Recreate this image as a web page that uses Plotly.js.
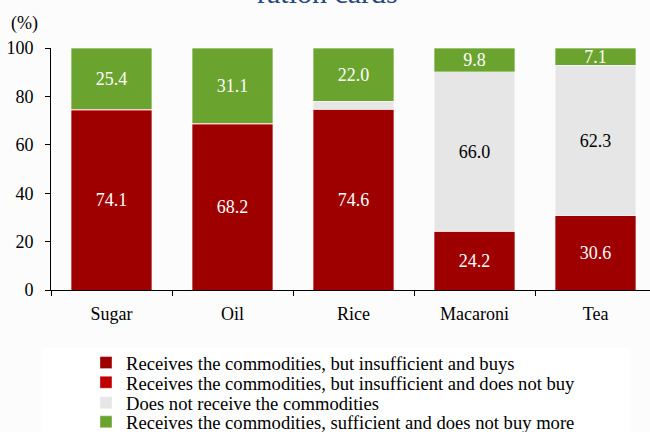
<!DOCTYPE html>
<html>
<head>
<meta charset="utf-8">
<script src="https://cdn.plot.ly/plotly-3.0.1.min.js"></script>
<style>html,body{margin:0;padding:0;background:#fcfcfc;}#chart{width:650px;height:432px;}</style>
</head>
<body>
<div id="chart"></div>
<script>
const categories = ['Sugar', 'Oil', 'Rice', 'Macaroni', 'Tea'];
const insufficientBuys = [74.1, 68.2, 74.6, 24.2, 30.6];
const insufficientNotBuy = [0.5, 0.7, 0, 0, 0];
const notReceive = [0, 0, 3.4, 66.0, 62.3];
const sufficient = [25.4, 31.1, 22.0, 9.8, 7.1];
const seriesNames = [
  'Receives the commodities, but insufficient and buys',
  'Receives the commodities, but insufficient and does not buy',
  'Does not receive the commodities',
  'Receives the commodities, sufficient and does not buy more'
];
const seriesColors = ['#9e0000', '#c00000', '#e6e6e6', '#6ba32f'];
const labelColors = ['#ffffff', '#ffffff', '#000000', '#ffffff'];
const yTicks = [0, 20, 40, 60, 80, 100];

const F = 'Liberation Serif';
const FS = 18;
const LFS = 18.6;
const legendIds = ['legend', 'legend2', 'legend3', 'legend4'];
const legendTops = [-0.223, -0.3044, -0.3892, -0.4679];
const allSeries = [insufficientBuys, insufficientNotBuy, notReceive, sufficient];
const traces = allSeries.map((vals, i) => ({
  type: 'bar',
  x: categories,
  y: vals,
  name: seriesNames[i],
  legend: legendIds[i],
  marker: {color: seriesColors[i], line: {color: 'rgba(255,255,255,0.7)', width: 0.5}},
  text: vals.map(v => v >= 5 ? v.toFixed(1) : ''),
  textposition: 'inside',
  insidetextanchor: 'middle',
  constraintext: 'none',
  textfont: {family: F, size: FS, color: labelColors[i]},
  hoverinfo: 'skip'
}));

const layout = {
  width: 650, height: 432,
  margin: {l: 51, r: 0, t: 48, b: 142, autoexpand: false},
  paper_bgcolor: '#fcfcfc',
  plot_bgcolor: '#fcfcfc',
  barmode: 'stack',
  bargap: 0.333,
  showlegend: true,
  font: {family: F, size: FS, color: '#000'},
  xaxis: {
    range: [-0.5, 4.45],
    showline: true, linecolor: '#000', linewidth: 1,
    ticks: 'outside', tickson: 'boundaries', ticklen: 5, tickcolor: '#000',
    ticklabelstandoff: 7,
    tickfont: {family: F, size: FS, color: '#000'},
    showgrid: false, zeroline: false, fixedrange: true, automargin: false
  },
  yaxis: {
    range: [0, 100],
    tickvals: yTicks,
    showline: true, linecolor: '#000', linewidth: 1,
    ticks: 'outside', ticklen: 5, tickcolor: '#000',
    ticklabelstandoff: 8,
    tickfont: {family: F, size: FS, color: '#000'},
    showgrid: false, zeroline: false, fixedrange: true, automargin: false
  },
  shapes: [{
    type: 'rect', xref: 'paper', yref: 'paper', layer: 'below',
    x0: -0.015, x1: 0.967, y0: -0.6, y1: -0.24,
    fillcolor: '#ffffff', line: {width: 0}
  }],
  annotations: [
    {text: '(%)', xref: 'paper', yref: 'paper', x: -0.07, y: 1.103,
     xanchor: 'left', yanchor: 'middle', showarrow: false,
     font: {family: F, size: FS, color: '#000'}},
    {text: 'ration cards', xref: 'paper', yref: 'paper', x: 0.462, y: 1.152,
     xanchor: 'center', yanchor: 'bottom', showarrow: false,
     font: {family: F, size: 30, color: '#1f497d'}}
  ]
};
legendIds.forEach((id, i) => {
  layout[id] = {
    orientation: 'v',
    x: 0.0584, xanchor: 'left',
    y: legendTops[i], yanchor: 'top',
    bgcolor: 'rgba(0,0,0,0)',
    font: {family: F, size: LFS, color: '#000'},
    tracegroupgap: 0
  };
});

Plotly.newPlot('chart', traces, layout, {staticPlot: true, displayModeBar: false});
</script>
</body>
</html>
